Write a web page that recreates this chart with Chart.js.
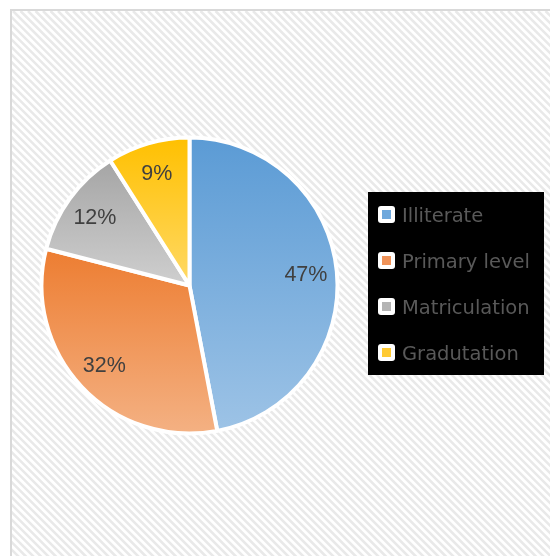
<!DOCTYPE html>
<html>
<head>
<meta charset="utf-8">
<script src="https://cdn.jsdelivr.net/npm/chart.js@4.4.1/dist/chart.umd.min.js"></script>
<style>
  html, body { margin: 0; padding: 0; background: #fff; }
  #wrap { width: 550px; height: 556px; }
</style>
</head>
<body>
<div id="wrap"><canvas id="pieChart" width="550" height="556"></canvas></div>
<script>
// datos del gráfico
const categorias = ['Illiterate', 'Primary level', 'Matriculation', 'Gradutation'];
const porcentajes = [47, 32, 12, 9];
const coloresArriba = ['#5b9bd5', '#ed7d31', '#a5a5a5', '#ffc000'];
const coloresAbajo = ['#9dc3e6', '#f4b183', '#cfcfcf', '#ffd966'];
const coloresLeyenda = ['#6fa8dc', '#f09359', '#b4b4b4', '#ffca33'];

const BORDE = 4;

// degradado vertical por porción (de arriba hacia abajo)
function degradado(context) {
    const chart = context.chart;
    const area = chart.chartArea;
    const i = context.dataIndex;
    if (!area) return coloresArriba[i];
    const cx = (area.left + area.right) / 2;
    const cy = (area.top + area.bottom) / 2;
    const r = (Math.min(area.width, area.height) - BORDE) / 2;
    const total = porcentajes.reduce((a, b) => a + b, 0);
    let inicio = -Math.PI / 2;
    for (let k = 0; k < i; k++) inicio += porcentajes[k] / total * Math.PI * 2;
    const fin = inicio + porcentajes[i] / total * Math.PI * 2;
    let ys = [cy, cy + r * Math.sin(inicio), cy + r * Math.sin(fin)];
    // extremos superior / inferior si caen dentro de la porción
    [Math.PI / 2, Math.PI * 1.5, -Math.PI / 2, Math.PI * 2.5].forEach(a => {
        if (a > inicio && a < fin) ys.push(cy + r * Math.sin(a));
    });
    const y0 = Math.min(...ys), y1 = Math.max(...ys);
    const g = chart.ctx.createLinearGradient(0, y0, 0, y1);
    g.addColorStop(0, coloresArriba[i]);
    g.addColorStop(1, coloresAbajo[i]);
    return g;
}

// fondo rayado con marco
const fondoPlugin = {
    id: 'fondo',
    beforeDraw(chart) {
        const c = chart.ctx;
        c.save();
        c.fillStyle = '#ffffff';
        c.fillRect(0, 0, chart.width, chart.height);
        c.beginPath();
        c.rect(12, 11, chart.width, chart.height);
        c.clip();
        c.strokeStyle = '#e9e9e9';
        c.lineWidth = 2.6;
        c.beginPath();
        for (let s = -704; s < 704; s += 7.5) {
            c.moveTo(12 + s, 11);
            c.lineTo(12 + s + 700, 711);
        }
        c.stroke();
        c.restore();
        c.save();
        c.fillStyle = '#d9d9d9';
        c.fillRect(10, 9, chart.width - 10, 2);
        c.fillRect(10, 9, 2, chart.height - 9);
        c.restore();
    }
};

// etiquetas de porcentaje dentro de cada porción
const etiquetasPlugin = {
    id: 'etiquetas',
    afterDatasetsDraw(chart) {
        const c = chart.ctx;
        const meta = chart.getDatasetMeta(0);
        c.save();
        c.font = '21.5px "Liberation Sans", Arial, sans-serif';
        c.fillStyle = '#404040';
        c.textAlign = 'center';
        c.textBaseline = 'middle';
        meta.data.forEach((arc, i) => {
            const p = arc.getProps(['x', 'y', 'startAngle', 'endAngle', 'outerRadius'], true);
            const mid = (p.startAngle + p.endAngle) / 2;
            const d = p.outerRadius * 0.79;
            c.fillText(porcentajes[i] + '%', p.x + Math.cos(mid) * d, p.y + Math.sin(mid) * d + 1);
        });
        c.restore();
    }
};

// leyenda con fondo negro
const leyendaPlugin = {
    id: 'leyendaNegra',
    afterDraw(chart) {
        const c = chart.ctx;
        c.save();
        c.fillStyle = '#000000';
        c.fillRect(368, 192, 176, 183);
        c.font = '19.5px "DejaVu Sans", sans-serif';
        c.textBaseline = 'alphabetic';
        categorias.forEach((nombre, i) => {
            const yc = 214.5 + i * 46;
            c.fillStyle = '#ffffff';
            c.beginPath();
            c.roundRect(378, yc - 8.5, 17, 17, 3);
            c.fill();
            c.fillStyle = coloresLeyenda[i];
            c.fillRect(382, yc - 4.5, 9, 9);
            c.fillStyle = '#595959';
            c.fillText(nombre, 402, yc + 7.3);
        });
        c.restore();
    }
};

const ctx = document.getElementById('pieChart').getContext('2d');
const grafico = new Chart(ctx, {
    type: 'pie',
    data: {
        labels: categorias,
        datasets: [{
            data: porcentajes,
            backgroundColor: degradado,
            borderColor: '#ffffff',
            borderWidth: BORDE,
            hoverBorderWidth: BORDE
        }]
    },
    options: {
        responsive: false,
        animation: false,
        events: [],
        layout: {
            padding: { left: 39.5, right: 210.5, top: 135.5, bottom: 120.5 }
        },
        plugins: {
            legend: { display: false },
            tooltip: { enabled: false }
        }
    },
    plugins: [fondoPlugin, etiquetasPlugin, leyendaPlugin]
});
</script>
</body>
</html>
